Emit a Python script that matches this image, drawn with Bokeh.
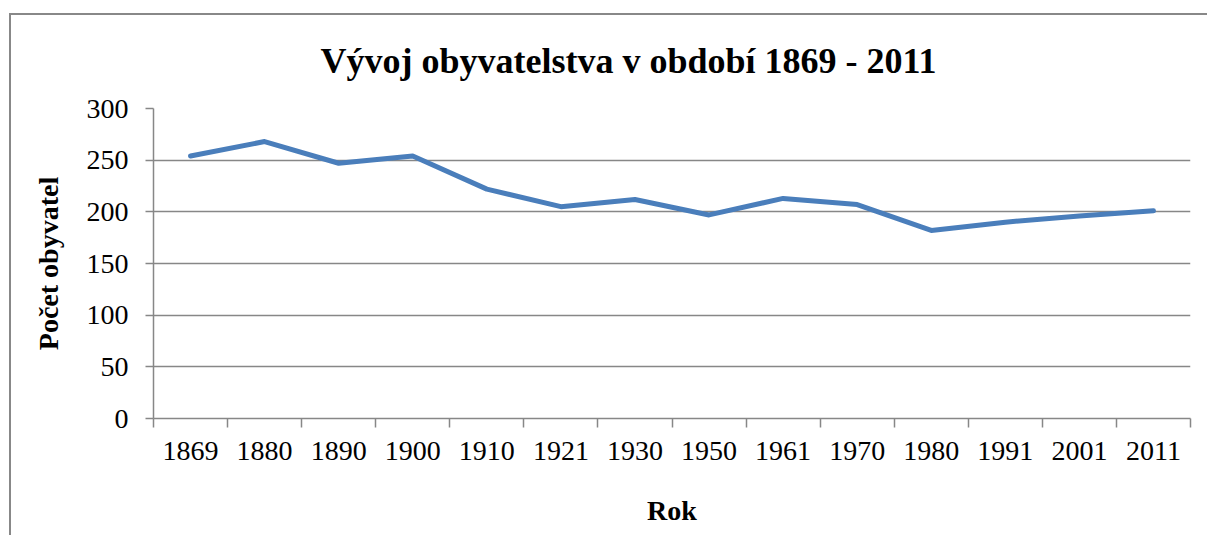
from bokeh.plotting import figure
from bokeh.models import Range1d, FixedTicker, Title
from bokeh.embed import file_html
from bokeh.resources import INLINE

years = ["1869", "1880", "1890", "1900", "1910", "1921", "1930", "1950",
         "1961", "1970", "1980", "1991", "2001", "2011"]
population = [254, 268, 247, 254, 222, 205, 212, 197, 213, 207, 182, 190, 196, 201]
y_ticks = [0, 50, 100, 150, 200, 250, 300]

title_text = "Vývoj obyvatelstva v období 1869 - 2011"
x_label = "Rok"
y_label = "Počet obyvatel"

FONT = "Liberation Serif"
GREY = "#878787"
BLUE = "#4A7EBB"

n = len(years)
centers = [i + 0.5 for i in range(n)]
edges = list(range(n + 1))

p = figure(width=1207, height=535, output_backend="svg", toolbar_location=None,
           x_range=Range1d(0, n), y_range=Range1d(0, 300),
           min_border_left=153, min_border_right=17, min_border_top=108,
           min_border_bottom=117)
p.outline_line_color = None
p.background_fill_color = "white"
p.border_fill_alpha = 0
p.styles = {
    "background": ("linear-gradient(#888888,#888888) 9px 13px / 2px 100% no-repeat, "
                   "linear-gradient(#888888,#888888) 9px 13px / 100% 2px no-repeat, white"),
}

p.line(centers, population, line_color=BLUE, line_width=5, line_join="round",
       line_cap="round")

# x axis
xa = p.xaxis[0]
xa.ticker = FixedTicker(ticks=centers, minor_ticks=edges)
xa.major_label_overrides = {c: y for c, y in zip(centers, years)}
xa.major_tick_line_color = None
xa.minor_tick_line_color = GREY
xa.minor_tick_out = 9
xa.minor_tick_in = 0
xa.minor_tick_line_width = 1.5
xa.axis_line_color = GREY
xa.axis_line_width = 1.5
xa.major_label_text_font = FONT
xa.major_label_text_font_size = "28px"
xa.major_label_text_color = "black"
xa.major_label_standoff = 14
xa.axis_label = x_label
xa.axis_label_text_font = FONT
xa.axis_label_text_font_size = "28px"
xa.axis_label_text_font_style = "bold"
xa.axis_label_text_color = "black"
xa.axis_label_standoff = 32

# y axis
ya = p.yaxis[0]
ya.ticker = FixedTicker(ticks=y_ticks)
ya.minor_tick_line_color = None
ya.major_tick_line_color = GREY
ya.major_tick_line_width = 1.5
ya.major_tick_out = 8
ya.major_tick_in = 0
ya.axis_line_color = GREY
ya.axis_line_width = 1.5
ya.major_label_text_font = FONT
ya.major_label_text_font_size = "28px"
ya.major_label_text_color = "black"
ya.major_label_standoff = 17
ya.axis_label = y_label
ya.axis_label_text_font = FONT
ya.axis_label_text_font_size = "28px"
ya.axis_label_text_font_style = "bold"
ya.axis_label_text_color = "black"
ya.axis_label_standoff = 20

p.xgrid.grid_line_color = None
p.ygrid.grid_line_color = GREY
p.ygrid.grid_line_width = 1.5
p.ygrid.ticker = FixedTicker(ticks=y_ticks)

p.title = Title(text=title_text, text_font=FONT, text_font_size="36px",
                text_font_style="bold", text_color="black", align="left",
                offset=167, standoff=56)

open("out.html", "w").write(file_html(p, INLINE))
